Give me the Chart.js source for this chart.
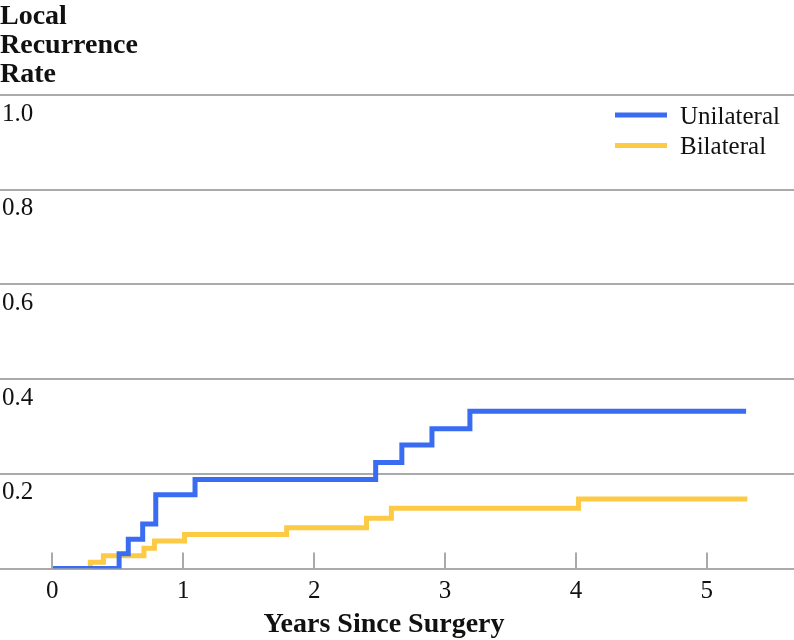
<!DOCTYPE html>
<html>
<head>
<meta charset="utf-8">
<script src="https://cdn.jsdelivr.net/npm/chart.js@4"></script>
<style>
  html, body { margin: 0; padding: 0; background: #fff; }
  .chart-box { position: relative; width: 794px; height: 640px; }
</style>
</head>
<body>
<div class="chart-box"><canvas id="kmChart"></canvas></div>
<script>
// Kaplan-Meier style local recurrence curves
const seriesNames = ['Unilateral', 'Bilateral'];
const uniYears = [0, 0.51, 0.58, 0.69, 0.79, 1.09, 2.47, 2.67, 2.90, 3.19, 5.30];
const uniRates = [0, 0.031, 0.062, 0.094, 0.156, 0.188, 0.224, 0.261, 0.295, 0.332, 0.332];
const biYears = [0, 0.29, 0.39, 0.70, 0.78, 1.01, 1.79, 2.40, 2.59, 4.02, 5.31];
const biRates = [0, 0.013, 0.027, 0.043, 0.058, 0.072, 0.086, 0.106, 0.127, 0.147, 0.147];
const xTickValues = [0, 1, 2, 3, 4, 5];
const yTickValues = [0, 0.2, 0.4, 0.6, 0.8, 1.0];

const BLUE = '#3a6cf2';
const YELLOW = '#fdca45';
const GRID = '#aaaaaa';
const SERIF = '"Liberation Serif", "Times New Roman", serif';

function toPoints(xs, ys) {
  return xs.map((x, i) => ({ x: x, y: ys[i] }));
}

// small upward tick marks on the x axis, legend and x title
const extras = {
  id: 'extras',
  afterDraw(chart) {
    const ctx = chart.ctx;
    const area = chart.chartArea;
    const xs = chart.scales.x;
    ctx.save();

    // tick marks
    ctx.strokeStyle = GRID;
    ctx.lineWidth = 2;
    xTickValues.forEach(v => {
      const px = Math.round(xs.getPixelForValue(v));
      ctx.beginPath();
      ctx.moveTo(px, area.bottom);
      ctx.lineTo(px, area.bottom - 16);
      ctx.stroke();
    });

    // legend
    ctx.font = '25px ' + SERIF;
    ctx.textAlign = 'left';
    ctx.textBaseline = 'alphabetic';
    chart.data.datasets.forEach((ds, i) => {
      const y = 115 + i * 30.5;
      ctx.strokeStyle = ds.borderColor;
      ctx.lineWidth = 5;
      ctx.beginPath();
      ctx.moveTo(615, y);
      ctx.lineTo(667, y);
      ctx.stroke();
      ctx.fillStyle = '#111';
      ctx.fillText(ds.label, 680, y + 8.5);
    });

    // x axis title
    ctx.font = 'bold 28px ' + SERIF;
    ctx.textAlign = 'center';
    ctx.fillStyle = '#111';
    ctx.fillText('Years Since Surgery', 384, 632);
    ctx.restore();
  }
};

new Chart(document.getElementById('kmChart'), {
  type: 'line',
  data: {
    datasets: [
      {
        label: seriesNames[0],
        data: toPoints(uniYears, uniRates),
        borderColor: BLUE,
        backgroundColor: BLUE,
        borderWidth: 5,
        stepped: 'before',
        pointRadius: 0,
        borderCapStyle: 'butt',
        borderJoinStyle: 'miter',
        fill: false
      },
      {
        label: seriesNames[1],
        data: toPoints(biYears, biRates),
        borderColor: YELLOW,
        backgroundColor: YELLOW,
        borderWidth: 5,
        stepped: 'before',
        pointRadius: 0,
        borderCapStyle: 'butt',
        borderJoinStyle: 'miter',
        fill: false
      }
    ]
  },
  options: {
    responsive: true,
    maintainAspectRatio: false,
    animation: false,
    layout: { padding: { left: 0, right: 0, top: 0, bottom: 25.5 } },
    plugins: {
      legend: { display: false },
      tooltip: { enabled: false },
      title: {
        display: true,
        text: ['Local', 'Recurrence', 'Rate'],
        align: 'start',
        color: '#111',
        font: { family: SERIF, size: 28, weight: 'bold', lineHeight: 1.036 },
        padding: { top: 2, bottom: 6 }
      }
    },
    scales: {
      x: {
        type: 'linear',
        min: -0.4,
        max: 5.666,
        afterBuildTicks: axis => { axis.ticks = xTickValues.map(v => ({ value: v })); },
        grid: { display: false, drawTicks: false },
        border: { display: true, color: GRID, width: 2 },
        ticks: {
          color: '#111',
          padding: 8,
          font: { family: SERIF, size: 25 },
          callback: v => String(v)
        }
      },
      y: {
        min: 0,
        max: 1,
        afterBuildTicks: axis => { axis.ticks = yTickValues.map(v => ({ value: v })); },
        afterFit: axis => { axis.width = 0; },
        grid: { color: GRID, lineWidth: 2, drawTicks: false },
        border: { display: false },
        ticks: {
          mirror: true,
          padding: 2,
          labelOffset: 19,
          color: '#111',
          font: { family: SERIF, size: 25 },
          callback: v => (v === 0 ? '' : v.toFixed(1))
        }
      }
    }
  },
  plugins: [extras]
});
</script>
</body>
</html>
